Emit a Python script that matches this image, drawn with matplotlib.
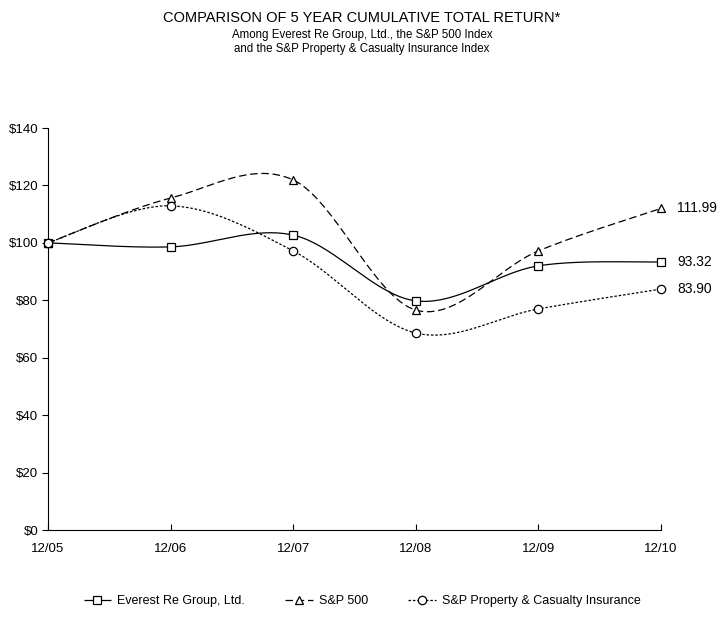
import numpy as np
import matplotlib
matplotlib.use("Agg")
import matplotlib.pyplot as plt

plt.rcParams['font.family'] = ['Liberation Sans', 'DejaVu Sans']

years = ["12/05", "12/06", "12/07", "12/08", "12/09", "12/10"]
everest = [100.00, 98.6, 102.7, 79.8, 92.0, 93.32]
sp500 = [100.00, 115.6, 121.9, 76.6, 97.2, 111.99]
pc_ins = [100.00, 112.9, 97.2, 68.6, 77.0, 83.90]
end_labels = ["93.32", "111.99", "83.90"]
yticks = [0, 20, 40, 60, 80, 100, 120, 140]


def smooth(xs, ys, n=40, t=1/6):
    xs = np.asarray(xs, float); ys = np.asarray(ys, float)
    px, py = [], []
    m = len(xs)
    for i in range(m - 1):
        p0 = np.array([xs[max(i-1, 0)], ys[max(i-1, 0)]])
        p1 = np.array([xs[i], ys[i]])
        p2 = np.array([xs[i+1], ys[i+1]])
        p3 = np.array([xs[min(i+2, m-1)], ys[min(i+2, m-1)]])
        c1 = p1 + (p2 - p0) * t
        c2 = p2 - (p3 - p1) * t
        s = np.linspace(0, 1, n)[:, None]
        pts = ((1-s)**3)*p1 + 3*((1-s)**2)*s*c1 + 3*(1-s)*(s**2)*c2 + (s**3)*p2
        px.extend(pts[:, 0]); py.extend(pts[:, 1])
    return np.array(px), np.array(py)


fig = plt.figure(figsize=(7.24, 6.2), dpi=100)
ax = fig.add_axes([48/724, 90/620, (661-48)/724, (530-128)/620])
x = np.arange(len(years))

series = [
    (everest, "Everest Re Group, Ltd.", "s", (0, ()), 6),
    (sp500, "S&P 500", "^", (0, (6, 3)), 6),
    (pc_ins, "S&P Property & Casualty Insurance", "o", (0, (2, 1.5)), 6),
]
handles = []
for ys, lab, mk, ls, ms in series:
    sx, sy = smooth(x, ys)
    ax.plot(sx, sy, color="black", lw=0.9, linestyle=ls, clip_on=False)
    ax.plot(x, ys, linestyle="none", marker=mk, ms=ms, mfc="white", mec="black", mew=0.9, clip_on=False, zorder=3)
    h, = ax.plot([], [], color="black", lw=0.9, linestyle=ls, marker=mk, ms=ms, mfc="white", mec="black", mew=0.9)
    handles.append(h)

for ys, lab in zip([everest, sp500, pc_ins], end_labels):
    ax.annotate(lab, (x[-1], ys[-1]), xytext=(11.5, 0), textcoords="offset points",
                va="center", ha="left", fontsize=10)

ax.set_xlim(0, len(years) - 1)
ax.set_ylim(0, 140)
ax.set_xticks(x)
ax.set_xticklabels(years, fontsize=9.5)
ax.set_yticks(yticks)
ax.set_yticklabels([f"${v}" for v in yticks], fontsize=9.5)
ax.spines['top'].set_visible(False)
ax.spines['right'].set_visible(False)
ax.tick_params(axis="x", direction="in", length=4, width=0.8, pad=9)
ax.tick_params(axis="y", direction="out", length=4, width=0.8, pad=3)
ax.spines['left'].set_linewidth(0.8)
ax.spines['bottom'].set_linewidth(0.8)

fig.text(0.5, 1 - 18/620, "COMPARISON OF 5 YEAR CUMULATIVE TOTAL RETURN*", ha="center", va="center", fontsize=10.5)
fig.text(0.5, 1 - 35/620, "Among Everest Re Group, Ltd., the S&P 500 Index", ha="center", va="center", fontsize=8.3)
fig.text(0.5, 1 - 49/620, "and the S&P Property & Casualty Insurance Index", ha="center", va="center", fontsize=8.3)

fig.legend(handles, [s[1] for s in series], loc="center", bbox_to_anchor=(0.5, 1 - 601/620),
           ncol=3, frameon=False, fontsize=9, handlelength=2.2, columnspacing=3.2, handletextpad=0.5)

fig.savefig("out.png", dpi=100)
